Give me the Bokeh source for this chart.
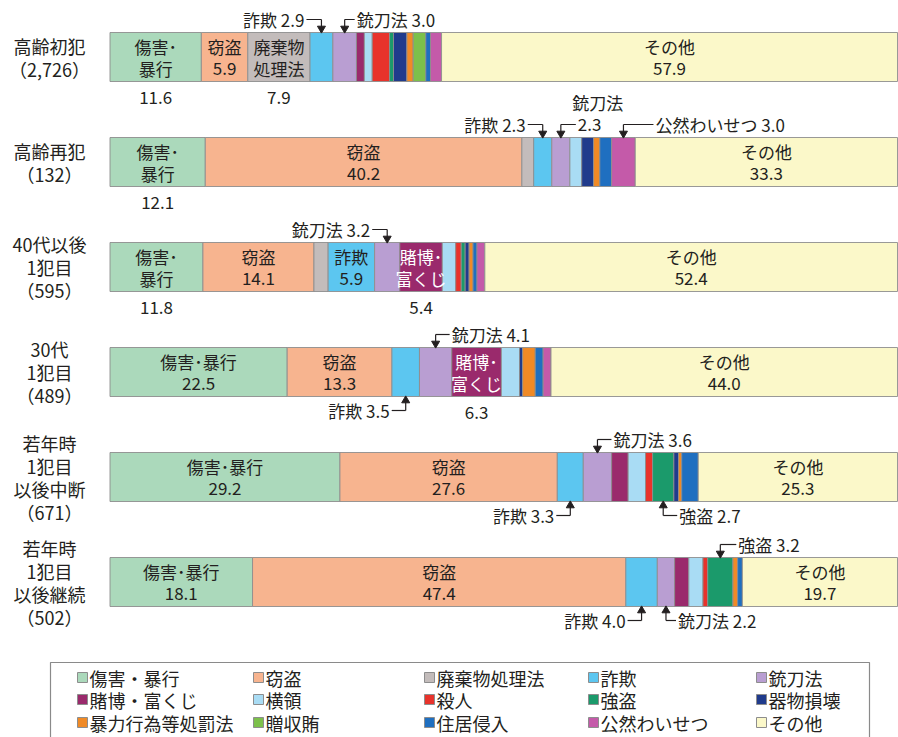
from bokeh.plotting import figure
from bokeh.models import Range1d, ColumnDataSource
from bokeh.core.properties import value
from bokeh.embed import file_html
from bokeh.resources import INLINE

FONT = value("Noto Sans CJK JP")

categories = ["傷害・暴行", "窃盗", "廃棄物処理法", "詐欺", "銃刀法",
              "賭博・富くじ", "横領", "殺人", "強盗", "器物損壊",
              "暴力行為等処罰法", "贈収賄", "住居侵入", "公然わいせつ", "その他"]
colors = ["#abd9bb", "#f7b48f", "#c3bcbb", "#5cc6f0", "#b99ed2",
          "#9a2a6c", "#a9dcf4", "#e8332b", "#1b9a6b", "#203b8c",
          "#f08a26", "#7cc04b", "#1f6fc0", "#c45aa9", "#fbf8c9"]

group_labels = [["高齢初犯", "（2,726）"],
                ["高齢再犯", "（132）"],
                ["40代以後", "1犯目", "（595）"],
                ["30代", "1犯目", "（489）"],
                ["若年時", "1犯目", "以後中断", "（671）"],
                ["若年時", "1犯目", "以後継続", "（502）"]]

elderly_first = [11.6, 5.9, 7.9, 2.9, 3.0, 1.0, 1.0, 2.2, 0.5, 1.7, 0.8, 1.6, 0.6, 1.4, 57.9]
elderly_repeat = [12.1, 40.2, 1.5, 2.3, 2.3, 0.0, 1.5, 0.0, 0.0, 1.5, 0.8, 0.0, 1.5, 3.0, 33.3]
forties_first = [11.8, 14.1, 1.8, 5.9, 3.2, 5.4, 1.7, 0.7, 0.5, 0.5, 0.5, 0.0, 0.5, 1.0, 52.4]
thirties_first = [22.5, 13.3, 0.0, 3.5, 4.1, 6.3, 2.3, 0.0, 0.0, 0.4, 1.6, 0.0, 1.0, 1.0, 44.0]
young_stopped = [29.2, 27.6, 0.0, 3.3, 3.6, 2.1, 2.2, 0.9, 2.7, 0.6, 0.4, 0.0, 2.1, 0.0, 25.3]
young_continued = [18.1, 47.4, 0.0, 4.0, 2.2, 1.8, 1.8, 0.6, 3.2, 0.0, 0.6, 0.0, 0.6, 0.0, 19.7]
shares = [elderly_first, elderly_repeat, forties_first, thirties_first,
          young_stopped, young_continued]

# labels drawn inside segments: (row, category, name lines, value inside?)
inner_labels = [
    (0, 0, ["傷害･", "暴行"], False), (0, 1, ["窃盗"], True),
    (0, 2, ["廃棄物", "処理法"], False), (0, 14, ["その他"], True),
    (1, 0, ["傷害･", "暴行"], False), (1, 1, ["窃盗"], True), (1, 14, ["その他"], True),
    (2, 0, ["傷害･", "暴行"], False), (2, 1, ["窃盗"], True), (2, 3, ["詐欺"], True),
    (2, 5, ["賭博･", "富くじ"], False), (2, 14, ["その他"], True),
    (3, 0, ["傷害･暴行"], True), (3, 1, ["窃盗"], True),
    (3, 5, ["賭博･", "富くじ"], False), (3, 14, ["その他"], True),
    (4, 0, ["傷害･暴行"], True), (4, 1, ["窃盗"], True), (4, 14, ["その他"], True),
    (5, 0, ["傷害･暴行"], True), (5, 1, ["窃盗"], True), (5, 14, ["その他"], True),
]
# callouts with leader lines: (row, category, side, text side, leader length px)
callouts = [
    (0, 3, "above", "left", 15), (0, 4, "above", "right", 10),
    (1, 3, "above", "left", 15), (1, 4, "above", "stacked", 15),
    (1, 13, "above", "right", 30),
    (2, 4, "above", "left", 15),
    (3, 4, "above", "right", 14), (3, 3, "below", "left", 14),
    (4, 4, "above", "right", 14), (4, 3, "below", "left", 14),
    (4, 8, "below", "right", 14),
    (5, 8, "above", "right", 16), (5, 3, "below", "left", 14),
    (5, 4, "below", "right", 10),
]

# ---------------- layout ----------------
W, H = 898, 737
PX0 = 109.5         # pixel where 0 % sits
PXPCT = 7.875       # pixels per percent
ROW0, ROWSTEP, BARH = 56.5, 105.0, 49.0

def px2x(px):
    return (px - PX0) / PXPCT

def dx(px):
    return px / PXPCT

p = figure(width=W, height=H, x_range=Range1d(px2x(0), px2x(W)),
           y_range=Range1d(H, 0), min_border=0,
           x_axis_location=None, y_axis_location=None,
           toolbar_location=None, output_backend="svg",
           outline_line_color=None, background_fill_color="white")
p.grid.visible = False

# ---------------- bars ----------------
ys, lefts, rights, fills = [], [], [], []
row_y = []
seg_pos = []
for r, vals in enumerate(shares):
    y = ROW0 + ROWSTEP * r
    row_y.append(y)
    acc = 0.0
    pos = []
    for c, v in enumerate(vals):
        pos.append((acc, acc + v))
        if v > 0:
            ys.append(y); lefts.append(acc); rights.append(acc + v); fills.append(colors[c])
        acc += v
    seg_pos.append(pos)

src = ColumnDataSource(dict(y=ys, left=lefts, right=rights, fill=fills))
p.hbar(y="y", left="left", right="right", height=BARH, fill_color="fill",
       line_color="#8d8d8d", line_width=0.9, source=src)

def txt(x, y, t, align="center", color="#231f20", size="17px", baseline="middle"):
    p.text(x=[x], y=[y], text=[t], text_font=FONT, text_font_size=size,
           text_align=align, text_baseline=baseline, text_color=color)

# row labels
for r, lines in enumerate(group_labels):
    n = len(lines)
    for i, ln in enumerate(lines):
        txt(px2x(49), row_y[r] + (i - (n - 1) / 2) * 23, ln, size="18px")

# inner labels
for r, c, lines, inside in inner_labels:
    a, b = seg_pos[r][c]
    xc = (a + b) / 2
    v = shares[r][c]
    tc = "white" if c == 5 else "#231f20"
    allines = lines + ([f"{v:.1f}"] if inside else [])
    n = len(allines)
    for i, ln in enumerate(allines):
        txt(xc, row_y[r] + (i - (n - 1) / 2) * 22, ln, color=tc)
    if not inside:
        txt(xc, row_y[r] + BARH / 2 + 16, f"{v:.1f}")

# callouts
sx0, sy0, sx1, sy1 = [], [], [], []
hx, hy, hm = [], [], []
for r, c, side, tside, lead in callouts:
    a, b = seg_pos[r][c]
    xc = (a + b) / 2
    v = shares[r][c]
    if side == "above":
        edge = row_y[r] - BARH / 2
        ty = edge - 13
        tip = edge - 4
        mk = "inverted_triangle"
    else:
        edge = row_y[r] + BARH / 2
        ty = edge + 14
        tip = edge + 4
        mk = "triangle"
    sx0.append(xc); sx1.append(xc); sy0.append(ty); sy1.append(tip)
    hx.append(xc); hy.append(tip); hm.append(mk)
    if tside == "left":
        sx0.append(xc - dx(lead)); sx1.append(xc); sy0.append(ty); sy1.append(ty)
        txt(xc - dx(lead + 2), ty, f"{categories[c]} {v:.1f}", align="right")
    elif tside == "right":
        sx0.append(xc); sx1.append(xc + dx(lead)); sy0.append(ty); sy1.append(ty)
        txt(xc + dx(lead + 2), ty, f"{categories[c]} {v:.1f}", align="left")
    else:  # stacked: name above the value
        sx0.append(xc); sx1.append(xc + dx(lead)); sy0.append(ty); sy1.append(ty)
        txt(xc + dx(lead + 2), ty, f"{v:.1f}", align="left")
        txt(xc + dx(lead + 22), ty - 22, categories[c], align="center")

p.segment(x0=sx0, y0=sy0, x1=sx1, y1=sy1, line_color="#231f20", line_width=1.2)
p.scatter(x=hx, y=hy, marker=hm, size=8, fill_color="#231f20", line_color="#231f20")

# ---------------- legend ----------------
LX = [82, 258, 429, 593, 761]
LY = [677, 699, 722]
p.quad(left=[px2x(50)], right=[px2x(869)], top=[662], bottom=[745],
       fill_color="white", line_color="#8a8a8a", line_width=1.2)
mx, my, mc = [], [], []
for i, cat in enumerate(categories):
    col, row = i % 5, i // 5
    mx.append(px2x(LX[col])); my.append(LY[row]); mc.append(colors[i])
    txt(px2x(LX[col] + 7), LY[row], cat, align="left", size="18px")
p.scatter(x=mx, y=my, marker="square", size=10, fill_color=mc,
          line_color="#8d8d8d", line_width=1)

open("out.html", "w").write(file_html(p, INLINE))
